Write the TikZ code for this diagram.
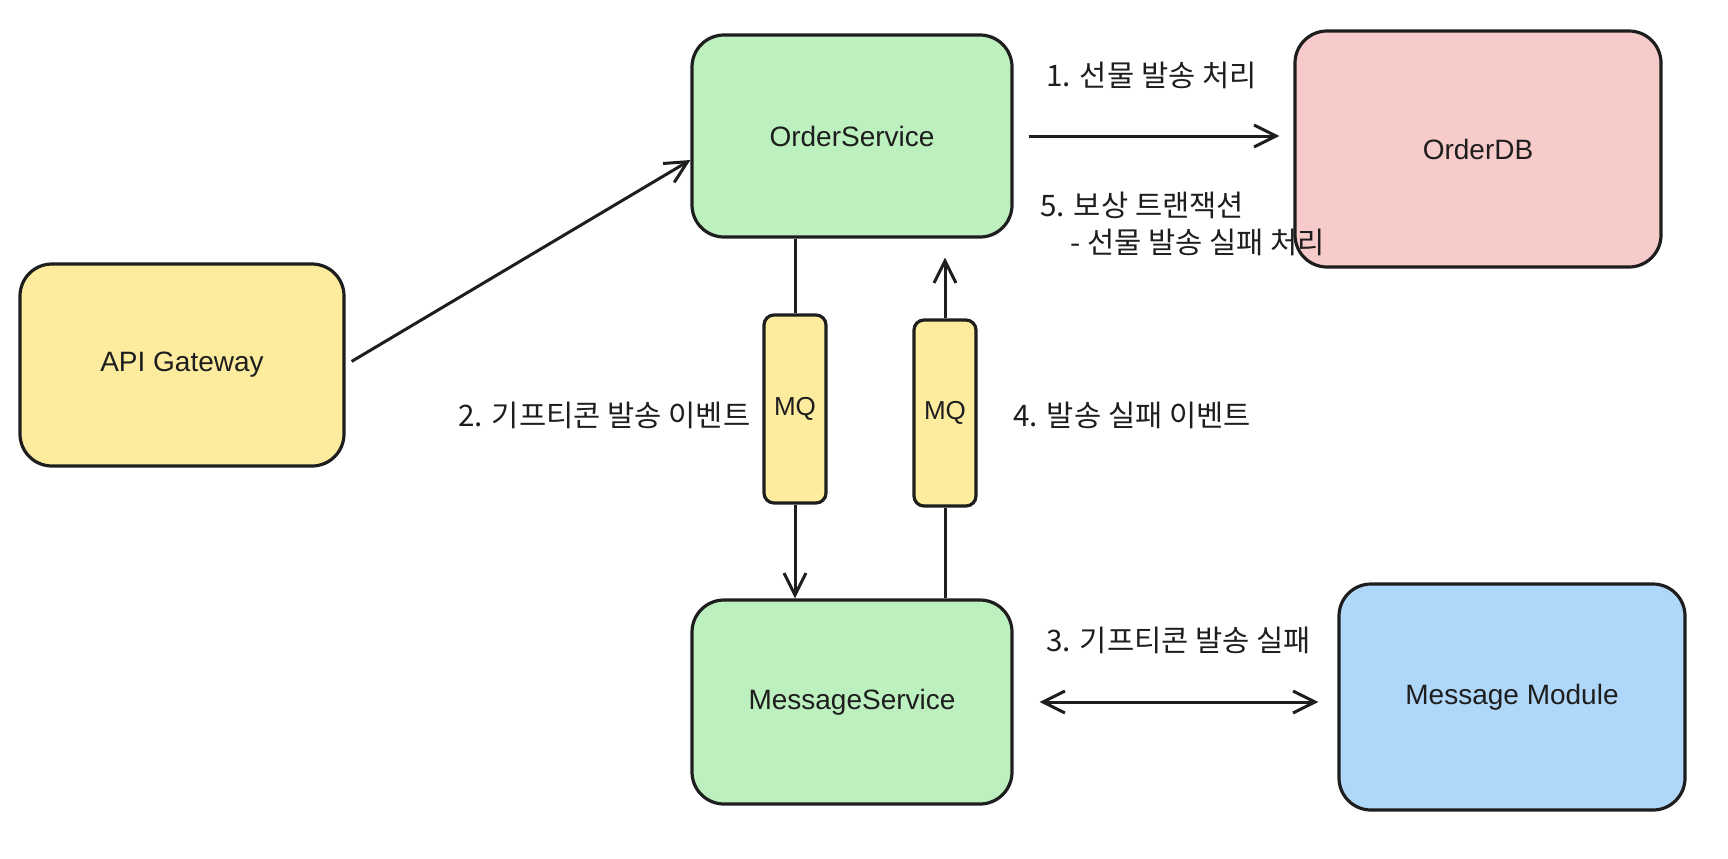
\documentclass[tikz,border=0pt]{standalone}
\usepackage{fontspec}
\setmainfont{Liberation Sans}
\newfontfamily\krfont{Noto Sans CJK KR}
\usetikzlibrary{arrows.meta}
\usetikzlibrary{positioning}

\definecolor{ink}{RGB}{30,30,30}
\definecolor{svcgreen}{RGB}{188,240,190}
\definecolor{gwyellow}{RGB}{253,236,158}
\definecolor{dbpink}{RGB}{248,203,203}
\definecolor{modblue}{RGB}{175,215,250}

\tikzset{
	svc node/.style={draw,rounded corners=16pt,line width=1.6pt,inner sep=0pt,
		font=\fontsize{14}{17}\selectfont},
	mq node/.style={draw,rounded corners=5pt,line width=1.6pt,inner sep=0pt,
		fill=gwyellow,minimum width=31pt,minimum height=94pt,
		font=\fontsize{13}{16}\selectfont},
	msg label/.style={anchor=west,inner sep=0pt,
		font=\krfont\fontsize{14.8}{18.5}\selectfont}
}

\begin{document}
\begin{tikzpicture}[x=0.5pt,y=-0.5pt,color=ink,line width=1.5pt,
	>={Straight Barb[length=11pt,width=11pt]}]
	\useasboundingbox (0,0) rectangle (1728,858);
	
	\node[svc node,fill=gwyellow,minimum width=162pt,minimum height=101pt] (api) at (182,365) {API Gateway};
	\node[svc node,fill=svcgreen,minimum width=160pt,minimum height=101pt] (order) at (852,136) {OrderService};
	\node[svc node,fill=dbpink,minimum width=183pt,minimum height=118pt] (db) at (1478,149) {OrderDB};
	\node[svc node,fill=svcgreen,minimum width=160pt,minimum height=102pt] (msg) at (852,702) {MessageService};
	\node[svc node,fill=modblue,minimum width=173pt,minimum height=113pt] (module) at (1512,697) {Message Module};
	\node[mq node] (mqa) at (795,409) {MQ};
	\node[mq node,minimum height=93pt] (mqb) at (945,413) {MQ};
	
	\node[msg label] (l1) at (1045,75) {1. 선물 발송 처리};
	\node[msg label] (l2) at (457,415) {2. 기프티콘 발송 이벤트};
	\node[msg label] (l3) at (1045,640) {3. 기프티콘 발송 실패};
	\node[msg label] (l4) at (1012,415) {4. 발송 실패 이벤트};
	\node[msg label,align=left] (l5) at (1039,224) {5. 보상 트랜잭션\\\hspace*{15pt}- 선물 발송 실패 처리};
	
	\draw[->,shorten <=3.5pt] (api.east) -- ([yshift=-12pt]order.west);
	\draw[->,shorten <=7.5pt,shorten >=7pt] (order.east) -- (order.east -| db.west);
	\draw[<->,shorten <=13pt,shorten >=9.5pt] (msg.east) -- (msg.east -| module.west);
	\draw (order.south -| mqa.north) -- (mqa.north);
	\draw[->] (mqa.south) -- (mqa.south |- msg.north);
	\draw (msg.north -| mqb.south) -- (mqb.south);
	\draw[->,shorten >=9.5pt] (mqb.north) -- (mqb.north |- order.south);
\end{tikzpicture}
\end{document}
